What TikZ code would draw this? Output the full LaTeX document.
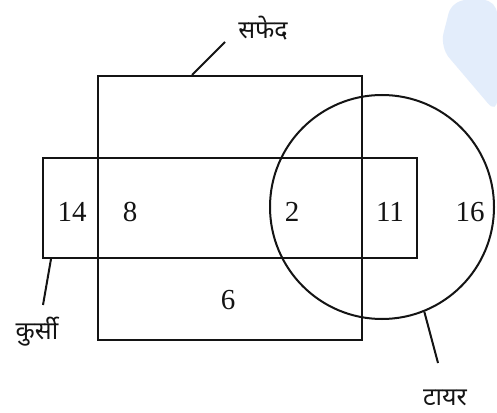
\documentclass[tikz,border=0pt]{standalone}
\usepackage{fontspec}
\setmainfont{Liberation Serif}
\newfontfamily\devfont[Script=Devanagari]{Noto Sans}
\usetikzlibrary{positioning}

\begin{document}
\begin{tikzpicture}[x=1pt,y=1pt]
\definecolor{lineColor}{RGB}{20,20,20}
\definecolor{tintColor}{RGB}{227,237,251}
\tikzset{
  setline/.style={draw=lineColor,line width=2pt},
  numlabel/.style={text=lineColor,inner sep=0pt,font=\fontsize{29}{30}\selectfont},
  setname/.style={text=lineColor,inner sep=0pt,font=\devfont\fontsize{25}{28}\selectfont}
}
\path[use as bounding box,fill=white] (0,0) rectangle (497,412);
\path[fill=tintColor,rounded corners=14pt] (452,412) -- (440,365) -- (497,298) -- (497,412) -- cycle;

% sets
\node[setline,rectangle,minimum width=264pt,minimum height=264pt,inner sep=0pt] (white) at (230,204) {};
\node[setline,rectangle,minimum width=374pt,minimum height=100pt,inner sep=0pt] (chair) at (230,204) {};
\node[setline,circle,minimum size=224pt,inner sep=0pt] (tyre) at (382,205) {};

% region counts
\node[numlabel] (n14) at ( 72,200) {14};
\node[numlabel] (n8)  at (130,200) {8};
\node[numlabel] (n2)  at (292,200) {2};
\node[numlabel] (n11) at (390,200) {11};
\node[numlabel] (n16) at (470,200) {16};
\node[numlabel] (n6)  at (228,112) {6};

% set names
\node[setname] (whiteName) at (263,384) {सफेद};
\node[setname] (chairName) at ( 37, 80) {कुर्सी};
\node[setname] (tyreName)  at (445, 14) {टायर};
\coordinate (whiteTip) at (225,370);
\coordinate (chairTip) at ( 43,107);
\coordinate (tyreTip)  at (438, 49);
\draw[setline] (white.north west) ++(95,0) -- (whiteTip);
\draw[setline] (chair.south west) ++(9,0) -- (chairTip);
\draw[setline] (tyre.-68) -- (tyreTip);
\end{tikzpicture}
\end{document}
